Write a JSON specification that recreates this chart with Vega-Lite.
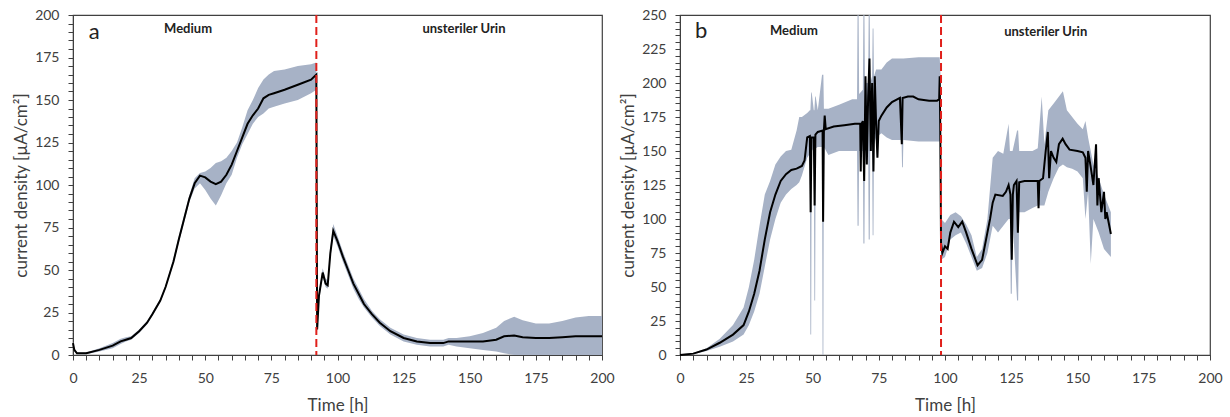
{
  "$schema": "https://vega.github.io/schema/vega-lite/v6.json",
  "background": "white",
  "padding": {"left": 12, "top": 7, "right": 5, "bottom": 3},
  "spacing": 4,
  "config": {
    "font": "Lato",
    "view": {"stroke": "#404040", "strokeWidth": 1.2},
    "axis": {
      "grid": false,
      "domainColor": "#404040",
      "tickColor": "#404040",
      "tickSize": 5,
      "labelFontSize": 14,
      "labelColor": "#404040",
      "titleFontSize": 17,
      "titleFontWeight": "normal",
      "titleColor": "#404040",
      "labelOverlap": false,
      "labelFlush": false
    },
    "axisX": {"labelPadding": 11, "titlePadding": 12},
    "axisY": {"labelPadding": 9, "titlePadding": 4}
  },
  "datasets": {
    "a": [
      {"t": 0, "mean": 7, "lo": 6, "hi": 8},
      {"t": 0.5, "mean": 3, "lo": 2, "hi": 4},
      {"t": 1.5, "mean": 1, "lo": 0.5, "hi": 1.5},
      {"t": 5, "mean": 1, "lo": 0.5, "hi": 1.5},
      {"t": 10, "mean": 3, "lo": 2, "hi": 4},
      {"t": 15, "mean": 5.5, "lo": 4, "hi": 7},
      {"t": 18, "mean": 8, "lo": 6.5, "hi": 9.5},
      {"t": 20, "mean": 9, "lo": 8, "hi": 10.5},
      {"t": 22, "mean": 10, "lo": 9, "hi": 11},
      {"t": 25, "mean": 14, "lo": 13, "hi": 15},
      {"t": 28, "mean": 19, "lo": 18, "hi": 20},
      {"t": 30, "mean": 24, "lo": 23, "hi": 25},
      {"t": 33, "mean": 32, "lo": 31, "hi": 33},
      {"t": 35, "mean": 40, "lo": 39, "hi": 41},
      {"t": 38, "mean": 55, "lo": 54, "hi": 57},
      {"t": 40, "mean": 68, "lo": 66, "hi": 70},
      {"t": 42, "mean": 80, "lo": 78, "hi": 82},
      {"t": 44, "mean": 92, "lo": 90, "hi": 94},
      {"t": 46, "mean": 101, "lo": 98, "hi": 104},
      {"t": 48, "mean": 105.5, "lo": 101, "hi": 107},
      {"t": 50, "mean": 104.5, "lo": 97, "hi": 108},
      {"t": 52, "mean": 102, "lo": 92, "hi": 110},
      {"t": 54, "mean": 100.5, "lo": 88, "hi": 113},
      {"t": 56, "mean": 102, "lo": 94, "hi": 114},
      {"t": 58, "mean": 106, "lo": 101, "hi": 116},
      {"t": 60, "mean": 112, "lo": 106, "hi": 120},
      {"t": 62, "mean": 120, "lo": 116, "hi": 125},
      {"t": 64, "mean": 128, "lo": 124, "hi": 134},
      {"t": 66, "mean": 136, "lo": 130, "hi": 144},
      {"t": 68, "mean": 141, "lo": 136, "hi": 150},
      {"t": 70, "mean": 145, "lo": 140, "hi": 157},
      {"t": 72, "mean": 151, "lo": 142, "hi": 162},
      {"t": 74, "mean": 153, "lo": 145, "hi": 165},
      {"t": 76, "mean": 154, "lo": 146, "hi": 167},
      {"t": 80, "mean": 156, "lo": 148, "hi": 168},
      {"t": 85, "mean": 159, "lo": 150, "hi": 170},
      {"t": 90, "mean": 162, "lo": 154, "hi": 171},
      {"t": 92, "mean": 165, "lo": 156, "hi": 172},
      {"t": 92.3, "mean": 15, "lo": 13, "hi": 17},
      {"t": 93, "mean": 35, "lo": 32, "hi": 37},
      {"t": 94.4, "mean": 48.5, "lo": 46, "hi": 51},
      {"t": 95.5, "mean": 42, "lo": 40, "hi": 45},
      {"t": 96.3, "mean": 41, "lo": 39, "hi": 44},
      {"t": 97.3, "mean": 60, "lo": 57, "hi": 63},
      {"t": 98.4, "mean": 73, "lo": 70, "hi": 77},
      {"t": 100, "mean": 67, "lo": 64, "hi": 70},
      {"t": 102, "mean": 58, "lo": 55, "hi": 61},
      {"t": 104, "mean": 50, "lo": 47, "hi": 53},
      {"t": 106, "mean": 42, "lo": 39, "hi": 45},
      {"t": 108, "mean": 36, "lo": 33, "hi": 39},
      {"t": 110, "mean": 30, "lo": 28, "hi": 33},
      {"t": 113, "mean": 24, "lo": 22, "hi": 26},
      {"t": 116, "mean": 19, "lo": 17, "hi": 21},
      {"t": 120, "mean": 14, "lo": 12, "hi": 16},
      {"t": 125, "mean": 10, "lo": 8, "hi": 12},
      {"t": 130, "mean": 8, "lo": 6, "hi": 10},
      {"t": 135, "mean": 7, "lo": 5, "hi": 9},
      {"t": 140, "mean": 7, "lo": 5, "hi": 9},
      {"t": 142, "mean": 8, "lo": 6, "hi": 10},
      {"t": 145, "mean": 8, "lo": 5, "hi": 10},
      {"t": 150, "mean": 8, "lo": 4, "hi": 11},
      {"t": 155, "mean": 8, "lo": 3, "hi": 13},
      {"t": 160, "mean": 9, "lo": 2, "hi": 16},
      {"t": 163, "mean": 11, "lo": 1, "hi": 20},
      {"t": 166.8, "mean": 11.5, "lo": 0, "hi": 22.5},
      {"t": 170, "mean": 10.5, "lo": 0, "hi": 20.5},
      {"t": 175, "mean": 10, "lo": 0, "hi": 18.5},
      {"t": 180, "mean": 10, "lo": 0, "hi": 18.5},
      {"t": 185, "mean": 10.5, "lo": 0, "hi": 20},
      {"t": 190, "mean": 11, "lo": 0, "hi": 22},
      {"t": 195, "mean": 11, "lo": 0, "hi": 23},
      {"t": 200, "mean": 11, "lo": 0, "hi": 23}
    ],
    "b_line": [
      {"t": 0, "mean": 0}, {"t": 5, "mean": 1}, {"t": 10, "mean": 4}, {"t": 15, "mean": 9},
      {"t": 20, "mean": 15}, {"t": 24, "mean": 22}, {"t": 26, "mean": 32}, {"t": 28, "mean": 45},
      {"t": 30, "mean": 62}, {"t": 32, "mean": 85}, {"t": 34, "mean": 105}, {"t": 36, "mean": 118},
      {"t": 38, "mean": 128}, {"t": 40, "mean": 133}, {"t": 42, "mean": 136}, {"t": 44, "mean": 137},
      {"t": 46, "mean": 139}, {"t": 47, "mean": 143}, {"t": 48, "mean": 160}, {"t": 49, "mean": 161},
      {"t": 49.3, "mean": 105}, {"t": 49.6, "mean": 160}, {"t": 50.5, "mean": 160}, {"t": 50.8, "mean": 110},
      {"t": 51.1, "mean": 162}, {"t": 52, "mean": 164}, {"t": 53.8, "mean": 165}, {"t": 54, "mean": 98},
      {"t": 54.3, "mean": 165}, {"t": 54.6, "mean": 176}, {"t": 55, "mean": 166}, {"t": 58, "mean": 168},
      {"t": 62, "mean": 169}, {"t": 66, "mean": 170}, {"t": 68, "mean": 170}, {"t": 68.2, "mean": 135},
      {"t": 68.5, "mean": 170}, {"t": 69, "mean": 172}, {"t": 69.5, "mean": 128}, {"t": 70, "mean": 205},
      {"t": 70.5, "mean": 140}, {"t": 71, "mean": 190}, {"t": 71.5, "mean": 218}, {"t": 72, "mean": 150},
      {"t": 72.5, "mean": 200}, {"t": 73, "mean": 135}, {"t": 73.5, "mean": 205}, {"t": 74, "mean": 170},
      {"t": 74.5, "mean": 145}, {"t": 75, "mean": 172}, {"t": 76, "mean": 176}, {"t": 78, "mean": 182},
      {"t": 80, "mean": 186}, {"t": 83, "mean": 189}, {"t": 83.7, "mean": 155}, {"t": 84, "mean": 189},
      {"t": 86, "mean": 190}, {"t": 88, "mean": 190}, {"t": 90, "mean": 188}, {"t": 94, "mean": 187},
      {"t": 97, "mean": 187}, {"t": 97.8, "mean": 188}, {"t": 98, "mean": 205}, {"t": 98.2, "mean": 170},
      {"t": 98.5, "mean": 82}, {"t": 99, "mean": 75}, {"t": 100, "mean": 80}, {"t": 101, "mean": 78},
      {"t": 102, "mean": 90}, {"t": 103.4, "mean": 98}, {"t": 105, "mean": 94}, {"t": 106.5, "mean": 98},
      {"t": 108, "mean": 90}, {"t": 110, "mean": 78}, {"t": 112.3, "mean": 66}, {"t": 114, "mean": 70},
      {"t": 116, "mean": 90}, {"t": 117, "mean": 100}, {"t": 118, "mean": 112}, {"t": 119, "mean": 118},
      {"t": 121.8, "mean": 117}, {"t": 123, "mean": 120}, {"t": 124, "mean": 125}, {"t": 124.7, "mean": 118},
      {"t": 125.2, "mean": 70}, {"t": 125.6, "mean": 118}, {"t": 126, "mean": 125}, {"t": 127, "mean": 128},
      {"t": 127.5, "mean": 90}, {"t": 128, "mean": 127}, {"t": 130, "mean": 128}, {"t": 133, "mean": 128},
      {"t": 135, "mean": 128}, {"t": 135.3, "mean": 108}, {"t": 135.6, "mean": 128}, {"t": 137, "mean": 130},
      {"t": 138, "mean": 150}, {"t": 138.8, "mean": 164}, {"t": 139.3, "mean": 130}, {"t": 140, "mean": 150},
      {"t": 141, "mean": 145}, {"t": 142, "mean": 142}, {"t": 143, "mean": 155}, {"t": 144.4, "mean": 159},
      {"t": 145.5, "mean": 155}, {"t": 147, "mean": 151}, {"t": 150, "mean": 150}, {"t": 152, "mean": 149},
      {"t": 153, "mean": 145}, {"t": 153.5, "mean": 120}, {"t": 154, "mean": 150}, {"t": 155, "mean": 138},
      {"t": 156, "mean": 125}, {"t": 157, "mean": 155}, {"t": 157.5, "mean": 110}, {"t": 158, "mean": 130},
      {"t": 159, "mean": 105}, {"t": 160, "mean": 120}, {"t": 160.5, "mean": 100}, {"t": 161, "mean": 105},
      {"t": 162.6, "mean": 89}
    ],
    "b_band": [
      {"t": 0, "lo": 0, "hi": 0.5}, {"t": 5, "lo": 0.5, "hi": 1.5}, {"t": 10, "lo": 3, "hi": 5},
      {"t": 15, "lo": 6, "hi": 12}, {"t": 20, "lo": 10, "hi": 22}, {"t": 24, "lo": 15, "hi": 35},
      {"t": 26, "lo": 22, "hi": 50}, {"t": 28, "lo": 32, "hi": 70}, {"t": 30, "lo": 45, "hi": 95},
      {"t": 32, "lo": 65, "hi": 118}, {"t": 34, "lo": 85, "hi": 128}, {"t": 36, "lo": 100, "hi": 140},
      {"t": 38, "lo": 112, "hi": 146}, {"t": 40, "lo": 118, "hi": 150}, {"t": 42, "lo": 122, "hi": 151},
      {"t": 44, "lo": 125, "hi": 165}, {"t": 45, "lo": 127, "hi": 175}, {"t": 46, "lo": 132, "hi": 175},
      {"t": 48, "lo": 145, "hi": 178}, {"t": 49, "lo": 148, "hi": 180},
      {"t": 49.2, "lo": 15, "hi": 180}, {"t": 49.5, "lo": 15, "hi": 193},
      {"t": 49.7, "lo": 150, "hi": 193}, {"t": 50.5, "lo": 152, "hi": 180},
      {"t": 50.7, "lo": 40, "hi": 180}, {"t": 51, "lo": 40, "hi": 190},
      {"t": 51.2, "lo": 152, "hi": 190}, {"t": 52, "lo": 153, "hi": 180}, {"t": 53.6, "lo": 153, "hi": 206},
      {"t": 53.8, "lo": 0, "hi": 206}, {"t": 54.1, "lo": 0, "hi": 206}, {"t": 54.3, "lo": 153, "hi": 181},
      {"t": 56, "lo": 147, "hi": 181},
      {"t": 60, "lo": 150, "hi": 184}, {"t": 65, "lo": 150, "hi": 188}, {"t": 66.8, "lo": 150, "hi": 188},
      {"t": 67, "lo": 95, "hi": 250}, {"t": 67.4, "lo": 95, "hi": 250}, {"t": 67.6, "lo": 150, "hi": 192},
      {"t": 69, "lo": 150, "hi": 195},
      {"t": 69.2, "lo": 82, "hi": 250}, {"t": 69.6, "lo": 82, "hi": 250}, {"t": 69.8, "lo": 150, "hi": 200},
      {"t": 71, "lo": 150, "hi": 200},
      {"t": 71.2, "lo": 85, "hi": 250}, {"t": 71.6, "lo": 85, "hi": 250}, {"t": 71.8, "lo": 150, "hi": 200},
      {"t": 72.5, "lo": 150, "hi": 205},
      {"t": 72.7, "lo": 88, "hi": 240}, {"t": 73, "lo": 88, "hi": 240}, {"t": 73.2, "lo": 155, "hi": 205},
      {"t": 74, "lo": 160, "hi": 210},
      {"t": 76, "lo": 163, "hi": 210}, {"t": 78, "lo": 160, "hi": 215}, {"t": 80, "lo": 158, "hi": 218},
      {"t": 83.6, "lo": 158, "hi": 218}, {"t": 83.8, "lo": 138, "hi": 218}, {"t": 84.1, "lo": 138, "hi": 218}, {"t": 84.3, "lo": 158, "hi": 218},
      {"t": 90, "lo": 157, "hi": 219}, {"t": 95, "lo": 157, "hi": 219}, {"t": 98, "lo": 157, "hi": 219},
      {"t": 98.3, "lo": 160, "hi": 207}, {"t": 98.5, "lo": 70, "hi": 100}, {"t": 100, "lo": 72, "hi": 97},
      {"t": 102, "lo": 85, "hi": 103}, {"t": 104, "lo": 88, "hi": 105}, {"t": 106, "lo": 90, "hi": 102},
      {"t": 108, "lo": 82, "hi": 96}, {"t": 110, "lo": 72, "hi": 88}, {"t": 112, "lo": 62, "hi": 72},
      {"t": 114, "lo": 64, "hi": 78}, {"t": 116, "lo": 75, "hi": 100}, {"t": 118, "lo": 95, "hi": 145},
      {"t": 120, "lo": 90, "hi": 150}, {"t": 122, "lo": 95, "hi": 148}, {"t": 124, "lo": 100, "hi": 170},
      {"t": 124.5, "lo": 100, "hi": 150}, {"t": 124.8, "lo": 45, "hi": 150}, {"t": 125.2, "lo": 45, "hi": 150},
      {"t": 125.5, "lo": 100, "hi": 150},
      {"t": 127.2, "lo": 40, "hi": 165}, {"t": 127.6, "lo": 40, "hi": 165}, {"t": 128, "lo": 105, "hi": 150}, {"t": 130, "lo": 105, "hi": 150},
      {"t": 133, "lo": 108, "hi": 150}, {"t": 135, "lo": 110, "hi": 152}, {"t": 136.5, "lo": 110, "hi": 190},
      {"t": 137.5, "lo": 110, "hi": 155}, {"t": 139, "lo": 120, "hi": 180}, {"t": 141, "lo": 130, "hi": 185},
      {"t": 143, "lo": 138, "hi": 190}, {"t": 144.5, "lo": 140, "hi": 194}, {"t": 146, "lo": 138, "hi": 180},
      {"t": 148, "lo": 137, "hi": 175}, {"t": 150, "lo": 135, "hi": 170}, {"t": 152, "lo": 130, "hi": 166},
      {"t": 153, "lo": 100, "hi": 172}, {"t": 154, "lo": 120, "hi": 160}, {"t": 155, "lo": 67, "hi": 150},
      {"t": 156, "lo": 100, "hi": 140}, {"t": 158, "lo": 90, "hi": 130}, {"t": 160, "lo": 78, "hi": 118},
      {"t": 162.6, "lo": 72, "hi": 105}
    ]
  },
  "hconcat": [
    {
      "width": 529,
      "height": 340,
      "layer": [
        {
          "data": {"name": "a"},
          "mark": {"type": "area", "color": "#a7b2c6", "opacity": 1},
          "encoding": {
            "x": {"field": "t", "type": "quantitative", "scale": {"domain": [0, 200], "nice": false},
              "axis": {"title": "Time [h]", "tickCount": 40, "labelExpr": "datum.value % 25 === 0 ? datum.label : ''"}},
            "y": {"field": "lo", "type": "quantitative", "scale": {"domain": [0, 200], "nice": false},
              "axis": {"title": "current density [µA/cm²]", "tickCount": 40, "labelExpr": "datum.value % 25 === 0 ? datum.label : ''"}},
            "y2": {"field": "hi"}
          }
        },
        {
          "data": {"name": "a"},
          "mark": {"type": "line", "color": "black", "strokeWidth": 2},
          "encoding": {
            "x": {"field": "t", "type": "quantitative",
              "axis": {"title": "Time [h]", "tickCount": 40, "labelExpr": "datum.value % 25 === 0 ? datum.label : ''"}},
            "y": {"field": "mean", "type": "quantitative",
              "axis": {"title": "current density [µA/cm²]", "tickCount": 40, "labelExpr": "datum.value % 25 === 0 ? datum.label : ''"}}
          }
        },
        {
          "data": {"values": [{"t": 92}]},
          "mark": {"type": "rule", "color": "#e0201b", "strokeWidth": 2, "strokeDash": [8, 4]},
          "encoding": {"x": {"field": "t", "type": "quantitative",
            "axis": {"title": "Time [h]", "tickCount": 40, "labelExpr": "datum.value % 25 === 0 ? datum.label : ''"}}}
        },
        {
          "data": {"values": [{"t": 8, "v": 190, "label": "a"}]},
          "mark": {"type": "text", "fontSize": 22, "color": "#222", "align": "center", "baseline": "middle"},
          "encoding": {
            "x": {"field": "t", "type": "quantitative",
              "axis": {"title": "Time [h]", "tickCount": 40, "labelExpr": "datum.value % 25 === 0 ? datum.label : ''"}},
            "y": {"field": "v", "type": "quantitative",
              "axis": {"title": "current density [µA/cm²]", "tickCount": 40, "labelExpr": "datum.value % 25 === 0 ? datum.label : ''"}},
            "text": {"field": "label"}}
        },
        {
          "data": {"values": [{"t": 43.5, "v": 191.5, "label": "Medium"}, {"t": 147.8, "v": 191.5, "label": "unsteriler Urin"}]},
          "mark": {"type": "text", "fontSize": 13, "fontWeight": "bold", "color": "#222", "align": "center", "baseline": "middle"},
          "encoding": {
            "x": {"field": "t", "type": "quantitative",
              "axis": {"title": "Time [h]", "tickCount": 40, "labelExpr": "datum.value % 25 === 0 ? datum.label : ''"}},
            "y": {"field": "v", "type": "quantitative",
              "axis": {"title": "current density [µA/cm²]", "tickCount": 40, "labelExpr": "datum.value % 25 === 0 ? datum.label : ''"}},
            "text": {"field": "label"}}
        }
      ]
    },
    {
      "width": 530,
      "height": 340,
      "layer": [
        {
          "data": {"name": "b_band"},
          "mark": {"type": "area", "color": "#a7b2c6", "opacity": 1, "clip": true},
          "encoding": {
            "x": {"field": "t", "type": "quantitative", "scale": {"domain": [0, 200], "nice": false},
              "axis": {"title": "Time [h]", "tickCount": 40, "labelExpr": "datum.value % 25 === 0 ? datum.label : ''"}},
            "y": {"field": "lo", "type": "quantitative", "scale": {"domain": [0, 250], "nice": false},
              "axis": {"title": "current density [µA/cm²]", "tickCount": 50, "labelExpr": "datum.value % 25 === 0 ? datum.label : ''"}},
            "y2": {"field": "hi"}
          }
        },
        {
          "data": {"name": "b_line"},
          "mark": {"type": "line", "color": "black", "strokeWidth": 2},
          "encoding": {
            "x": {"field": "t", "type": "quantitative",
              "axis": {"title": "Time [h]", "tickCount": 40, "labelExpr": "datum.value % 25 === 0 ? datum.label : ''"}},
            "y": {"field": "mean", "type": "quantitative",
              "axis": {"title": "current density [µA/cm²]", "tickCount": 50, "labelExpr": "datum.value % 25 === 0 ? datum.label : ''"}}
          }
        },
        {
          "data": {"values": [{"t": 98.5}]},
          "mark": {"type": "rule", "color": "#e0201b", "strokeWidth": 2, "strokeDash": [8, 4]},
          "encoding": {"x": {"field": "t", "type": "quantitative",
            "axis": {"title": "Time [h]", "tickCount": 40, "labelExpr": "datum.value % 25 === 0 ? datum.label : ''"}}}
        },
        {
          "data": {"values": [{"t": 8, "v": 238, "label": "b"}]},
          "mark": {"type": "text", "fontSize": 22, "color": "#222", "align": "center", "baseline": "middle"},
          "encoding": {
            "x": {"field": "t", "type": "quantitative",
              "axis": {"title": "Time [h]", "tickCount": 40, "labelExpr": "datum.value % 25 === 0 ? datum.label : ''"}},
            "y": {"field": "v", "type": "quantitative",
              "axis": {"title": "current density [µA/cm²]", "tickCount": 50, "labelExpr": "datum.value % 25 === 0 ? datum.label : ''"}},
            "text": {"field": "label"}}
        },
        {
          "data": {"values": [{"t": 43, "v": 238, "label": "Medium"}, {"t": 138, "v": 237.5, "label": "unsteriler Urin"}]},
          "mark": {"type": "text", "fontSize": 13, "fontWeight": "bold", "color": "#222", "align": "center", "baseline": "middle"},
          "encoding": {
            "x": {"field": "t", "type": "quantitative",
              "axis": {"title": "Time [h]", "tickCount": 40, "labelExpr": "datum.value % 25 === 0 ? datum.label : ''"}},
            "y": {"field": "v", "type": "quantitative",
              "axis": {"title": "current density [µA/cm²]", "tickCount": 50, "labelExpr": "datum.value % 25 === 0 ? datum.label : ''"}},
            "text": {"field": "label"}}
        }
      ]
    }
  ]
}
